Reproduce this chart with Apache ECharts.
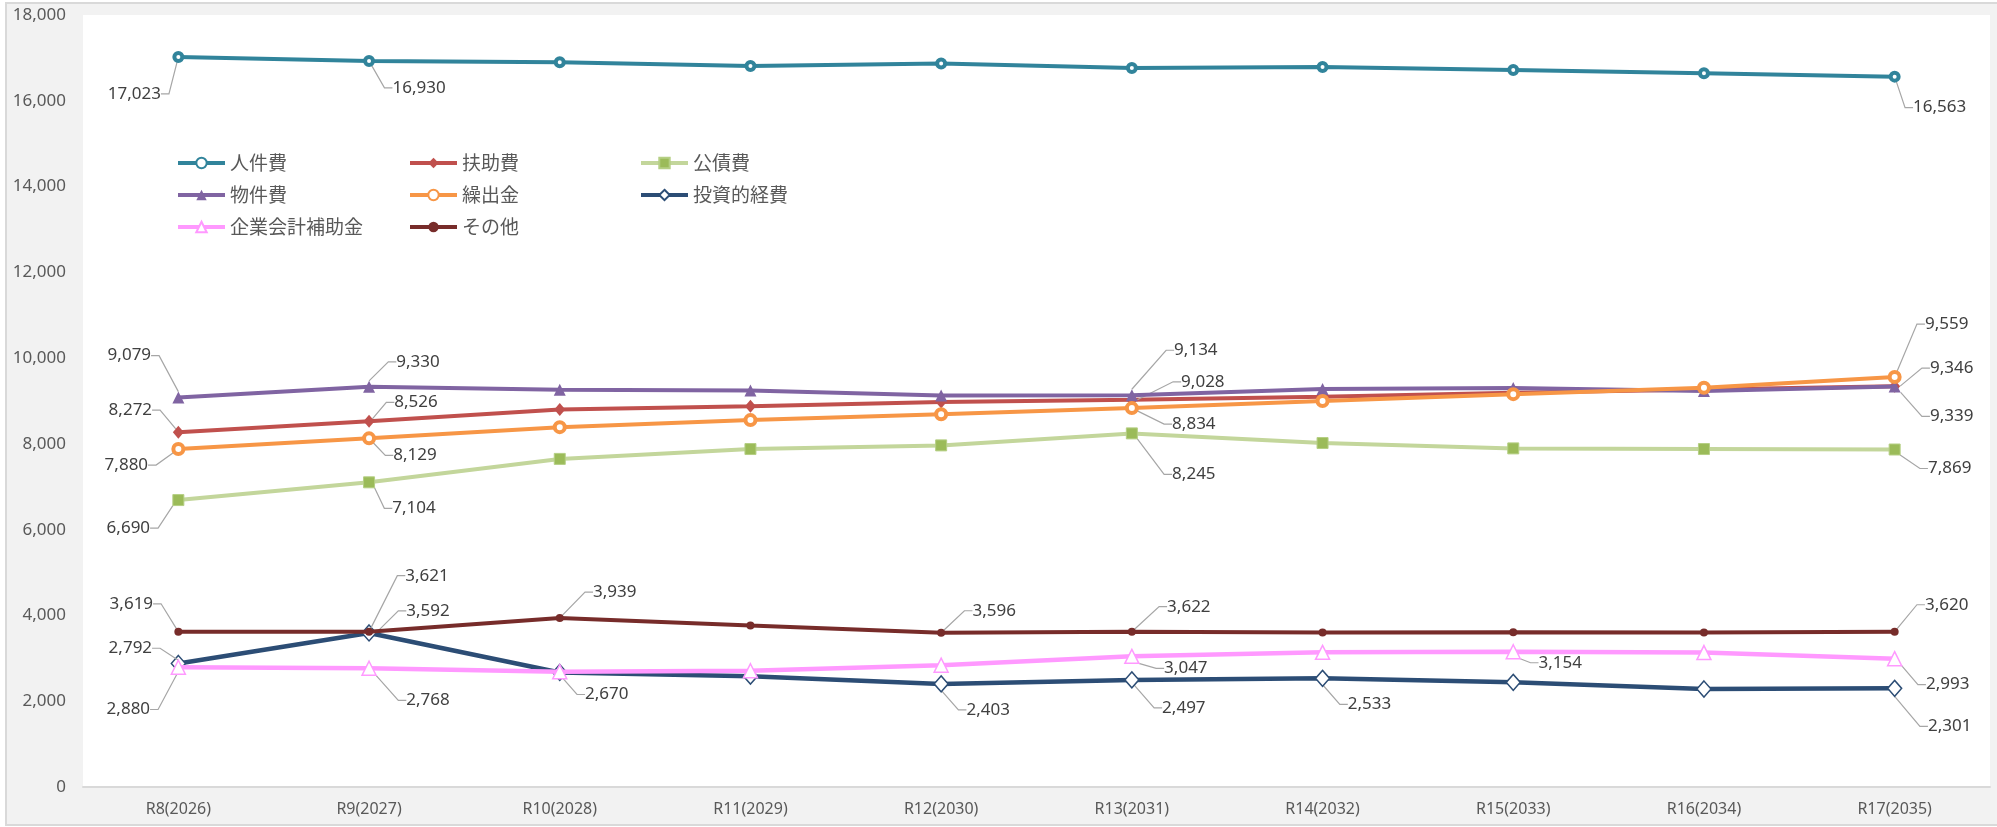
<!DOCTYPE html>
<html>
<head>
<meta charset="utf-8">
<script src="https://cdn.jsdelivr.net/npm/echarts@6.0.0/dist/echarts.min.js"></script>
<style>
  html, body { margin: 0; padding: 0; background: #fff; }
  #main { width: 1997px; height: 827px; }
</style>
</head>
<body>
<div id="main"></div>
<script>
// 年度
const categories = ['R8(2026)', 'R9(2027)', 'R10(2028)', 'R11(2029)', 'R12(2030)',
  'R13(2031)', 'R14(2032)', 'R15(2033)', 'R16(2034)', 'R17(2035)'];

// 各費目 (百万円)
const jinkenhi = [17023, 16930, 16900, 16810, 16870, 16765, 16785, 16720, 16640, 16563];
const fujohi = [8272, 8526, 8800, 8880, 8975, 9028, 9100, 9190, 9270, 9346];
const kosaihi = [6690, 7104, 7650, 7880, 7965, 8245, 8020, 7895, 7880, 7869];
const bukkenhi = [9079, 9330, 9265, 9245, 9130, 9134, 9280, 9305, 9235, 9339];
const kuridashikin = [7880, 8129, 8390, 8555, 8690, 8834, 9000, 9160, 9310, 9559];
const toushiteki = [2880, 3592, 2670, 2585, 2403, 2497, 2533, 2440, 2285, 2301];
const kigyokaikei = [2792, 2768, 2690, 2710, 2840, 3047, 3140, 3154, 3135, 2993];
const sonota = [3619, 3621, 3939, 3765, 3596, 3622, 3605, 3610, 3605, 3620];

// y軸
const yMin = 0;
const yMax = 18000;
const yStep = 2000;

// 系列の見た目
const seriesDefs = [
  { name: '人件費', data: jinkenhi, color: '#31849B', symbol: 'circle', size: 8, fill: '#fff', border: 4, width: 4 },
  { name: '扶助費', data: fujohi, color: '#C0504D', symbol: 'diamond', size: [11, 13], fill: '#C0504D', border: 0, width: 4 },
  { name: '公債費', data: kosaihi, color: '#C3D69B', symbol: 'rect', size: 11, fill: '#9BBB59', border: 1, borderColor: '#B5CF84', width: 4 },
  { name: '物件費', data: bukkenhi, color: '#8064A2', symbol: 'triangle', size: 12, fill: '#8064A2', border: 0, width: 4 },
  { name: '繰出金', data: kuridashikin, color: '#F79646', symbol: 'circle', size: 10, fill: '#fff', border: 4, width: 4 },
  { name: '投資的経費', data: toushiteki, color: '#2C4D75', symbol: 'diamond', size: [14, 16], fill: '#fff', border: 1.5, width: 4.5 },
  { name: '企業会計補助金', data: kigyokaikei, color: '#FF99FF', symbol: 'triangle', size: 14, fill: '#fff', border: 1.5, width: 4.5 },
  { name: 'その他', data: sonota, color: '#772C2A', symbol: 'circle', size: 8, fill: '#772C2A', border: 0, width: 4 }
];

// データラベルの位置 (点からのずらし量 px) : 表示するものだけ
const labelOffsets = [
  { 0: [-44, 37], 1: [50, 27], 9: [45, 31] },
  { 0: [-48, -22], 1: [47, -19], 5: [71, -18], 9: [57, -18] },
  { 0: [-50, 28], 1: [45, 26], 5: [62, 41], 9: [55, 19] },
  { 0: [-49, -42], 1: [49, -25], 5: [64, -45], 9: [57, 30] },
  { 0: [-52, 16], 1: [46, 17], 5: [62, 16], 9: [52, -53] },
  { 0: [-50, 46], 1: [59, -22], 2: [47, 22], 4: [47, 26], 5: [52, 28], 6: [47, 26], 9: [55, 38] },
  { 0: [-48, -19], 1: [59, 32], 5: [54, 12], 7: [47, 11], 9: [53, 26] },
  { 0: [-47, -28], 1: [58, -56], 2: [55, -26], 4: [53, -22], 5: [57, -25], 9: [52, -27] }
];

const numFmt = (v) => Number(v).toLocaleString('en-US');
const latinFont = "'Noto Sans', 'Noto Sans CJK JP', sans-serif";
const cjkFont = "'Noto Sans CJK JP', 'Noto Sans', sans-serif";

let MyEcharts = echarts.init(document.getElementById('main'));

let series = [];
seriesDefs.forEach((s, si) => {
  series.push({
    name: s.name,
    type: 'line',
    data: s.data.map((v, i) => labelOffsets[si][i] ? { value: v, label: { show: true } } : v),
    symbol: s.symbol,
    symbolSize: s.size,
    showSymbol: true,
    z: 2 + si,
    lineStyle: { color: s.color, width: s.width },
    itemStyle: {
      color: s.fill,
      borderColor: s.borderColor || s.color,
      borderWidth: s.border
    },
    label: {
      show: false,
      position: 'inside',
      formatter: (p) => numFmt(p.value),
      color: '#404040',
      fontSize: 17,
      fontFamily: latinFont
    },
    labelLine: {
      show: true,
      length2: 8,
      lineStyle: { color: '#A6A6A6', width: 1.2 }
    },
    labelLayout: function (p) {
      const o = labelOffsets[p.seriesIndex][p.dataIndex];
      if (!o) return {};
      return {
        x: p.rect.x + p.rect.width / 2 + o[0],
        y: p.rect.y + p.rect.height / 2 + o[1],
        align: 'center',
        verticalAlign: 'middle'
      };
    },
    emphasis: { disabled: true }
  });
});

const legendBase = {
  orient: 'vertical',
  top: 153,
  padding: 0,
  itemGap: 12,
  itemWidth: 47,
  itemHeight: 13,
  selectedMode: false,
  lineStyle: { width: 4 },
  textStyle: { color: '#595959', fontSize: 19, lineHeight: 20, fontFamily: cjkFont }
};

let option = {
  animation: false,
  backgroundColor: '#fff',
  graphic: [{
    type: 'rect',
    silent: true,
    z: -10,
    shape: { x: 6, y: 3, width: 2010, height: 822 },
    style: { fill: '#F2F2F2', stroke: '#D9D9D9', lineWidth: 2 }
  }],
  legend: [
    Object.assign({}, legendBase, { left: 176, data: ['人件費', '物件費', '企業会計補助金'] }),
    Object.assign({}, legendBase, { left: 408, data: ['扶助費', '繰出金', 'その他'] }),
    Object.assign({}, legendBase, { left: 639, data: ['公債費', '投資的経費'] })
  ],
  grid: {
    left: 83,
    right: 7,
    top: 15,
    bottom: 40,
    show: true,
    backgroundColor: '#fff',
    borderWidth: 0,
    containLabel: false,
    outerBoundsMode: 'none'
  },
  tooltip: { show: false },
  xAxis: {
    type: 'category',
    data: categories,
    boundaryGap: true,
    axisTick: { show: false },
    axisLine: { show: true, lineStyle: { color: '#D9D9D9', width: 2 } },
    splitLine: { show: false },
    axisLabel: {
      margin: 14,
      color: '#595959',
      fontSize: 16,
      fontFamily: latinFont
    }
  },
  yAxis: {
    type: 'value',
    min: yMin,
    max: yMax,
    interval: yStep,
    axisTick: { show: false },
    axisLine: { show: false },
    splitLine: { show: false },
    axisLabel: {
      margin: 17,
      color: '#595959',
      fontSize: 17,
      fontFamily: latinFont,
      formatter: (v) => numFmt(v)
    }
  },
  series: series
};

MyEcharts.setOption(option);
window.addEventListener('resize', () => {
  MyEcharts.resize();
});
</script>
</body>
</html>
